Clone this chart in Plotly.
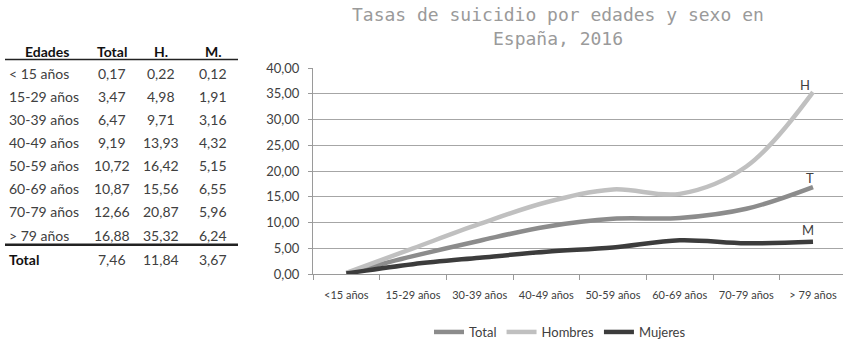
import plotly.graph_objects as go

# Suicide rates per 100,000 inhabitants by age group and sex, Spain 2016
edades = ["< 15 años", "15-29 años", "30-39 años", "40-49 años",
          "50-59 años", "60-69 años", "70-79 años", "> 79 años"]
categorias = ["<15 años", "15-29 años", "30-39 años", "40-49 años",
              "50-59 años", "60-69 años", "70-79 años", "> 79 años"]
total = [0.17, 3.47, 6.47, 9.19, 10.72, 10.87, 12.66, 16.88]
hombres = [0.22, 4.98, 9.71, 13.93, 16.42, 15.56, 20.87, 35.32]
mujeres = [0.12, 1.91, 3.16, 4.32, 5.15, 6.55, 5.96, 6.24]
totales = {"Total": 7.46, "H.": 11.84, "M.": 3.67}
y_ticks = [0, 5, 10, 15, 20, 25, 30, 35, 40]
titulo = ["Tasas de suicidio por edades y sexo en", "España, 2016"]

W, H = 843, 339
L, R, T, B = 313, 0, 68, 65
PW, PH = W - L - R, H - T - B


def px(x):
    return (x - L) / PW


def py(y):
    return (H - B - y) / PH


def num(v):
    return f"{v:.2f}".replace(".", ",")


fig = go.Figure()

series = [
    ("Total", total, "#8c8c8c"),
    ("Hombres", hombres, "#c0c0c0"),
    ("Mujeres", mujeres, "#3c3c3c"),
]
for name, vals, color in series:
    fig.add_trace(go.Scatter(
        x=categorias, y=vals, name=name, mode="lines",
        line=dict(color=color, width=4.5, shape="spline", smoothing=1.0),
        hoverinfo="skip",
    ))

# End-of-line letters
for letra, vals, dx, dy in [("H", hombres, -8, 7), ("T", total, -3, 9), ("M", mujeres, -5, 12)]:
    fig.add_annotation(x=categorias[-1], y=vals[-1], text=letra, showarrow=False,
                       xshift=dx, yshift=dy,
                       font=dict(family="Lato", size=13, color="#404040"))

# Two-line title
for linea, ty in zip(titulo, [15, 38]):
    fig.add_annotation(xref="paper", yref="paper", x=px(558), y=py(ty),
                       xanchor="center", yanchor="middle", showarrow=False,
                       text=linea,
                       font=dict(family="DejaVu Sans Mono", size=18, color="#9a9a9a"))

# Data table on the left
annotations = []
col_x = {"Total": 112, "H.": 161, "M.": 213}
hdr_y = 51
annotations.append(dict(x=px(47), y=py(hdr_y), text="<b>Edades</b>", xanchor="center"))
for k, cx in col_x.items():
    annotations.append(dict(x=px(cx), y=py(hdr_y), text=f"<b>{k}</b>", xanchor="center"))

row_y0, row_dy = 73.3, 23.1
for i, e in enumerate(edades):
    yy = row_y0 + i * row_dy
    annotations.append(dict(x=px(7), y=py(yy), text=e, xanchor="left", color="#404040"))
    for k, arr in [("Total", total), ("H.", hombres), ("M.", mujeres)]:
        annotations.append(dict(x=px(col_x[k]), y=py(yy), text=num(arr[i]),
                                xanchor="center", color="#404040"))
tot_y = 259
annotations.append(dict(x=px(7), y=py(tot_y), text="<b>Total</b>", xanchor="left"))
for k, cx in col_x.items():
    annotations.append(dict(x=px(cx), y=py(tot_y), text=num(totales[k]),
                            xanchor="center", color="#404040"))

for a in annotations:
    color = a.pop("color", "#111111")
    fig.add_annotation(xref="paper", yref="paper", showarrow=False, yanchor="middle",
                       font=dict(family="Lato", size=14, color=color), **a)

fig.add_shape(type="line", xref="paper", yref="paper",
              x0=px(5), x1=px(238), y0=py(59.5), y1=py(59.5),
              line=dict(color="#222222", width=1.5))
fig.add_shape(type="line", xref="paper", yref="paper",
              x0=px(5), x1=px(238), y0=py(244.7), y1=py(244.7),
              line=dict(color="#222222", width=2.5))

fig.update_layout(
    width=W, height=H,
    margin=dict(l=L, r=R, t=T, b=B, autoexpand=False),
    paper_bgcolor="white", plot_bgcolor="white",
    separators=",.",
    showlegend=True,
    legend=dict(
        orientation="h", x=px(560), xanchor="center", y=py(332), yanchor="middle",
        font=dict(family="Lato", size=13, color="#404040"),
        itemwidth=30, tracegroupgap=0,
    ),
    xaxis=dict(
        type="category", range=[-0.5, 7.45],
        showgrid=False, showline=True, linecolor="#9a9a9a", linewidth=1,
        ticks="outside", ticklen=5, tickcolor="#9a9a9a", tickson="boundaries",
        ticklabelstandoff=11,
        tickfont=dict(family="Lato", size=11, color="#404040"),
        fixedrange=True,
    ),
    yaxis=dict(
        range=[0, 40], tickvals=y_ticks, tickformat=".2f",
        showgrid=True, gridcolor="#a6a6a6", gridwidth=1,
        showline=True, linecolor="#9a9a9a", linewidth=1,
        ticks="outside", ticklen=4, tickcolor="#9a9a9a",
        ticklabelstandoff=6,
        tickfont=dict(family="Lato", size=13, color="#404040"),
        zeroline=False, fixedrange=True,
    ),
)

fig.write_html("out.html")
